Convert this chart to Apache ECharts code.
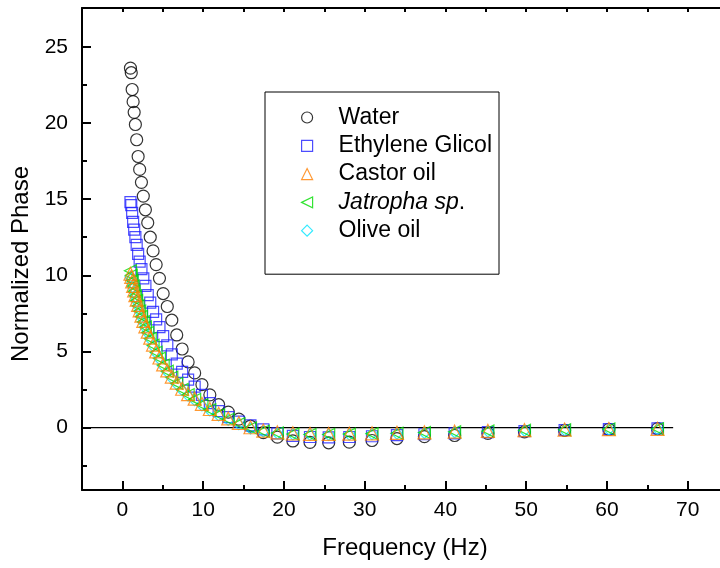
<!DOCTYPE html>
<html>
<head>
<meta charset="utf-8">
<script src="https://cdn.jsdelivr.net/npm/echarts@6/dist/echarts.min.js"></script>
<style>
  html, body { margin: 0; padding: 0; background: #fff; }
  #chart { width: 720px; height: 568px; }
</style>
</head>
<body>
<div id="chart"></div>
<script>
// frequencies (Hz)
const freq = [1.00, 1.10, 1.21, 1.33, 1.46, 1.61, 1.77, 1.95, 2.14, 2.36,
  2.59, 2.85, 3.14, 3.45, 3.80, 4.18, 4.59, 5.05, 5.56, 6.12,
  6.73, 7.40, 8.14, 8.95, 9.85, 10.83, 11.92, 13.11, 14.42, 15.86,
  17.45, 19.19, 21.11, 23.23, 25.55, 28.10, 30.91, 34.00, 37.40, 41.14,
  45.26, 49.79, 54.76, 60.24, 66.26];

const water = [23.6, 23.3, 22.2, 21.4, 20.7, 19.9, 18.9, 17.8, 16.95, 16.1,
  15.2, 14.3, 13.45, 12.5, 11.6, 10.7, 9.8, 8.8, 7.95, 7.05,
  6.08, 5.16, 4.31, 3.59, 2.82, 2.15, 1.5, 1.01, 0.55, 0.1,
  -0.33, -0.63, -0.88, -0.97, -1.0, -0.96, -0.85, -0.72, -0.6, -0.52,
  -0.38, -0.28, -0.18, -0.11, -0.07];

const ethylene = [14.8, 14.6, 14.1, 13.5, 13.0, 12.5, 12.0, 11.4, 10.9, 10.4,
  9.8, 9.3, 8.7, 8.2, 7.6, 7.1, 6.6, 6.0, 5.4, 4.8,
  4.2, 3.65, 3.15, 2.69, 2.15, 1.6, 1.08, 0.68, 0.39, 0.15,
  -0.12, -0.38, -0.55, -0.62, -0.64, -0.62, -0.57, -0.5, -0.44, -0.38,
  -0.3, -0.23, -0.16, -0.1, -0.05];

const castor = [10.1, 9.9, 9.6, 9.3, 9.0, 8.7, 8.4, 8.05, 7.7, 7.35,
  7.0, 6.65, 6.3, 5.9, 5.45, 5.0, 4.6, 4.15, 3.75, 3.35,
  2.95, 2.55, 2.2, 1.9, 1.56, 1.22, 0.9, 0.6, 0.3, 0.02,
  -0.2, -0.32, -0.38, -0.41, -0.42, -0.4, -0.38, -0.35, -0.32, -0.27,
  -0.22, -0.17, -0.13, -0.1, -0.08];

const jatropha = [10.3, 10.0, 9.65, 9.3, 8.95, 8.65, 8.35, 8.0, 7.65, 7.3,
  6.95, 6.6, 6.25, 5.85, 5.4, 4.95, 4.55, 4.1, 3.7, 3.3,
  2.9, 2.5, 2.15, 1.85, 1.5, 1.17, 0.85, 0.55, 0.26, -0.02,
  -0.24, -0.36, -0.42, -0.45, -0.45, -0.43, -0.4, -0.37, -0.33, -0.28,
  -0.23, -0.18, -0.14, -0.1, -0.08];

const olive = [9.9, 9.75, 9.5, 9.2, 8.9, 8.6, 8.3, 7.95, 7.6, 7.25,
  6.9, 6.55, 6.2, 5.8, 5.35, 4.9, 4.5, 4.05, 3.65, 3.25,
  2.85, 2.45, 2.1, 1.8, 1.45, 1.12, 0.8, 0.5, 0.22, -0.06,
  -0.27, -0.39, -0.45, -0.48, -0.48, -0.46, -0.43, -0.4, -0.36, -0.31,
  -0.26, -0.21, -0.17, -0.13, -0.11];

// reference line at zero
const zeroLineX = [-5, 68.2];
const zeroLineY = [0, 0];

const xMajorTicks = [0, 10, 20, 30, 40, 50, 60, 70];
const xMinorTicks = [5, 15, 25, 35, 45, 55, 65];
const yMajorTicks = [0, 5, 10, 15, 20, 25];
const yMinorTicks = [-2.5, 2.5, 7.5, 12.5, 17.5, 22.5];

const legendNames = ['Water', 'Ethylene Glicol', 'Castor oil', 'Jatropha sp.', 'Olive oil'];

const FONT = '"Liberation Sans", Arial, sans-serif';
// left-pointing triangle for Jatropha
const LEFT_TRIANGLE = 'path://M0,5L10,0L10,10Z';

const chart = echarts.init(document.getElementById('chart'), null, { renderer: 'canvas' });

function pairs(ys) {
  return freq.map((f, i) => [f, ys[i]]);
}

function scatter(name, data, symbol, size, color, z) {
  return {
    name: name,
    type: 'scatter',
    data: pairs(data),
    symbol: symbol,
    symbolSize: size,
    z: z,
    itemStyle: { color: 'transparent', borderColor: color, borderWidth: 1.2 },
    emphasis: { disabled: true }
  };
}

const axisLine = { onZero: false, lineStyle: { color: '#000', width: 2 } };
const noLine = { show: false, onZero: false };
const xRange = { type: 'value', min: -5, max: 74 };
const yRange = { type: 'value', min: -4.1, max: 27.55 };

const option = {
  animation: false,
  backgroundColor: '#fff',
  grid: { left: 82, right: 0, top: 8, bottom: 78, containLabel: false },
  legend: {
    data: legendNames,
    orient: 'vertical',
    left: 265,
    top: 92,
    align: 'left',
    itemWidth: 11,
    itemHeight: 11,
    itemGap: 5.3,
    padding: [14, 7, 32, 36],
    borderColor: '#000',
    borderWidth: 1,
    selectedMode: false,
    itemStyle: { borderWidth: 1.2 },
    formatter: function (name) {
      return name === 'Jatropha sp.' ? '{i|Jatropha sp}.' : name;
    },
    textStyle: {
      fontFamily: FONT, fontSize: 23, color: '#000', lineHeight: 22.5, padding: [0, 0, 0, 21],
      rich: { i: { fontFamily: FONT, fontSize: 23, fontStyle: 'italic', color: '#000' } }
    }
  },
  xAxis: [
    Object.assign({}, xRange, {
      position: 'bottom',
      axisLine: axisLine,
      axisTick: { inside: true, length: 9, customValues: xMajorTicks, lineStyle: { color: '#000', width: 2 } },
      axisLabel: { customValues: xMajorTicks, fontSize: 21, color: '#000', fontFamily: FONT, margin: 10 },
      splitLine: { show: false },
      name: 'Frequency (Hz)',
      nameLocation: 'middle',
      nameGap: 46,
      nameTextStyle: { fontSize: 24, color: '#000', fontFamily: FONT, padding: [0, 0, 0, 8] }
    }),
    Object.assign({}, xRange, {
      position: 'bottom',
      axisLine: noLine,
      axisTick: { inside: true, length: 5, customValues: xMinorTicks, lineStyle: { color: '#000', width: 2 } },
      axisLabel: { show: false },
      splitLine: { show: false }
    }),
    Object.assign({}, xRange, {
      position: 'top',
      axisLine: axisLine,
      axisTick: { inside: true, length: 4, customValues: xMajorTicks.concat(xMinorTicks), lineStyle: { color: '#000', width: 2 } },
      axisLabel: { show: false },
      splitLine: { show: false }
    })
  ],
  yAxis: [
    Object.assign({}, yRange, {
      position: 'left',
      axisLine: axisLine,
      axisTick: { inside: true, length: 9, customValues: yMajorTicks, lineStyle: { color: '#000', width: 2 } },
      axisLabel: { customValues: yMajorTicks, fontSize: 21, color: '#000', fontFamily: FONT, margin: 14 },
      splitLine: { show: false },
      name: 'Normalized Phase',
      nameLocation: 'middle',
      nameGap: 48,
      nameTextStyle: { fontSize: 24, color: '#000', fontFamily: FONT, padding: [0, 30, 0, 0] }
    }),
    Object.assign({}, yRange, {
      position: 'left',
      axisLine: noLine,
      axisTick: { inside: true, length: 5, customValues: yMinorTicks, lineStyle: { color: '#000', width: 2 } },
      axisLabel: { show: false },
      splitLine: { show: false }
    })
  ],
  series: [
    {
      name: 'zero',
      type: 'line',
      data: zeroLineX.map((x, i) => [x, zeroLineY[i]]),
      symbol: 'none',
      lineStyle: { color: '#000', width: 1.3 },
      z: 1,
      silent: true
    },
    scatter('Water', water, 'circle', 12, '#000000', 2),
    scatter('Ethylene Glicol', ethylene, 'rect', 11, '#1f1fff', 3),
    scatter('Olive oil', olive, 'diamond', 11, '#00e5ff', 4),
    scatter('Jatropha sp.', jatropha, LEFT_TRIANGLE, 12, '#00dd00', 5),
    scatter('Castor oil', castor, 'triangle', 13, '#ff7f00', 6)
  ]
};

chart.setOption(option);
</script>
</body>
</html>
